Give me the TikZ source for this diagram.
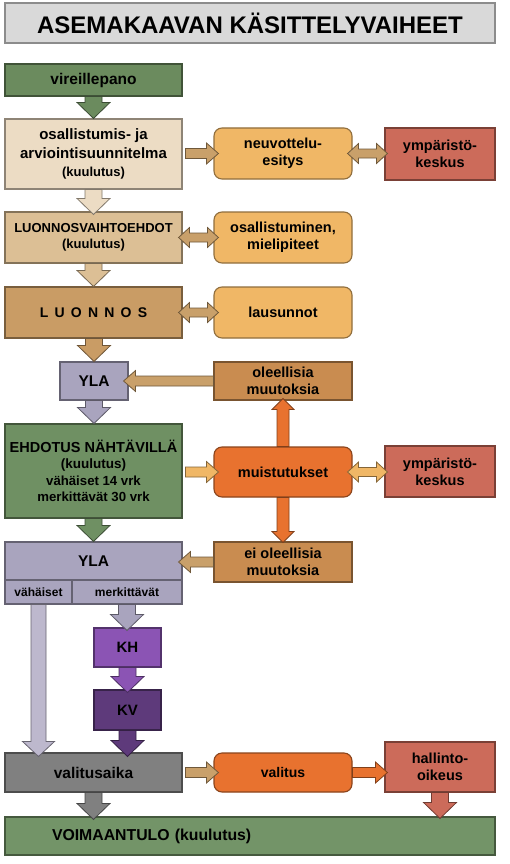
\documentclass[tikz,border=0pt]{standalone}
\usepackage{fontspec}
\setmainfont{Liberation Sans}
\usetikzlibrary{calc}
\newcommand\myfs[2]{\fontsize{#1}{#2}\selectfont}
\newcommand\lsp{\hspace{6.2pt}}
\definecolor{cTitle}{HTML}{D9D9D9}
\definecolor{cVir}{HTML}{6B8B5E}
\definecolor{cOsa}{HTML}{ECDCC4}
\definecolor{cLvt}{HTML}{DCBF95}
\definecolor{cLuo}{HTML}{C99C65}
\definecolor{cOrL}{HTML}{F0B766}
\definecolor{cRed}{HTML}{CC6B5A}
\definecolor{cYla}{HTML}{A9A4BE}
\definecolor{cOle}{HTML}{C98C50}
\definecolor{cGreen}{HTML}{6F9063}
\definecolor{cOr}{HTML}{E8722F}
\definecolor{cVah}{HTML}{BDB8CD}
\definecolor{cKH}{HTML}{8B54B4}
\definecolor{cKV}{HTML}{5E3A7B}
\definecolor{cGray}{HTML}{808080}
\definecolor{cVoi}{HTML}{739468}
\definecolor{cTan}{HTML}{C9A06A}
\newcommand\barrow[6]{%
  \coordinate (bah) at ($(#3)!#6!(#2)$);
  \draw[ar=#1] ($(#2)!#4!90:(#3)$) -- ($(bah)!#4!-90:(#2)$) -- ($(bah)!#5!-90:(#2)$) -- (#3) -- ($(bah)!#5!90:(#2)$) -- ($(bah)!#4!90:(#2)$) -- ($(#2)!#4!-90:(#3)$) -- cycle;}
\newcommand\dbarrow[6]{%
  \coordinate (dba) at ($(#2)!#6!(#3)$);
  \coordinate (dbb) at ($(#3)!#6!(#2)$);
  \draw[ar=#1] (#2) -- ($(dba)!#5!90:(#3)$) -- ($(dba)!#4!90:(#3)$) -- ($(dbb)!#4!-90:(#2)$) -- ($(dbb)!#5!-90:(#2)$) -- (#3) -- ($(dbb)!#5!90:(#2)$) -- ($(dbb)!#4!90:(#2)$) -- ($(dba)!#4!-90:(#3)$) -- ($(dba)!#5!-90:(#3)$) -- cycle;}
\tikzset{
  bx/.style={draw=#1!60!black, fill=#1, line width=1.1pt, inner sep=0pt, align=center, text=black, font=\bfseries\myfs{14.5}{17}},
  rbx/.style={bx=#1, rounded corners=8pt},
  ar/.style={draw=#1!55!black, fill=#1, line width=0.8pt, line join=miter},
}
\begin{document}
\begin{tikzpicture}[x=1pt,y=-1pt]
\useasboundingbox[fill=white] (0,0) rectangle (510,864);
% boxes
\node[bx=cTitle, draw=black!45, line width=1.5pt, minimum width=490pt, minimum height=40pt, font=\bfseries\myfs{24}{28}] (title) at (250,23) {ASEMAKAAVAN KÄSITTELYVAIHEET};
\node[bx=cVir, minimum width=177pt, minimum height=32pt, font=\bfseries\myfs{15.5}{18}] (vir) at (93.5,80) {vireillepano};
\node[bx=cOsa, minimum width=177pt, minimum height=70pt, font=\bfseries\myfs{15}{18.5}] (osa) at (93.5,154) {osallistumis- ja\\arviointisuunnitelma\\{\myfs{13}{16}(kuulutus)}};
\node[rbx=cOrL, minimum width=138pt, minimum height=51pt] (neu) at (283,153.5) {neuvottelu-\\esitys};
\node[bx=cRed, minimum width=110pt, minimum height=52pt] (ymp1) at (440,154) {ympäristö-\\keskus};
\node[bx=cLvt, minimum width=177pt, minimum height=51pt, font=\bfseries\myfs{13}{16.5}] (lvt) at (93.5,237.5) {LUONNOSVAIHTOEHDOT\\(kuulutus)};
\node[rbx=cOrL, minimum width=138pt, minimum height=51pt] (osm) at (283,237.5) {osallistuminen,\\mielipiteet};
\node[bx=cLuo, minimum width=177pt, minimum height=51pt, font=\bfseries\myfs{14}{17}] (luo) at (93.5,312.5) {L\lsp U\lsp O\lsp N\lsp N\lsp O\lsp S};
\node[rbx=cOrL, minimum width=138pt, minimum height=51pt] (lau) at (283,312.5) {lausunnot};
\node[bx=cYla, minimum width=68pt, minimum height=38pt, font=\bfseries\myfs{15.5}{18}] (yla1) at (94,381) {YLA};
\node[bx=cOle, minimum width=138pt, minimum height=38pt] (ole) at (283,381) {oleellisia\\muutoksia};
\node[bx=cGreen, minimum width=177pt, minimum height=94pt, font=\bfseries\myfs{14.5}{16.5}] (ehd) at (93.5,471) {EHDOTUS NÄHTÄVILLÄ\\{\myfs{13.5}{16.5}(kuulutus)}\\{\myfs{13.2}{16.5}vähäiset 14 vrk}\\{\myfs{13.2}{16.5}merkittävät 30 vrk}};
\node[rbx=cOr, minimum width=138pt, minimum height=50pt] (mui) at (283,472) {muistutukset};
\node[bx=cRed, minimum width=110pt, minimum height=51pt] (ymp2) at (440,471.5) {ympäristö-\\keskus};
\node[bx=cYla, minimum width=177pt, minimum height=38pt, font=\bfseries\myfs{15.5}{18}] (yla2) at (93.5,561) {YLA};
\node[bx=cOle, minimum width=138pt, minimum height=40pt] (ei) at (283,562) {ei oleellisia\\muutoksia};
\node[bx=cYla, minimum width=67pt, minimum height=24pt, font=\bfseries\myfs{12}{14}] (vah) at (38.5,592) {vähäiset};
\node[bx=cYla, minimum width=110pt, minimum height=24pt, font=\bfseries\myfs{12}{14}] (mer) at (127,592) {merkittävät};
\node[bx=cKH, minimum width=67pt, minimum height=39pt, font=\bfseries\myfs{15}{18}] (kh) at (127.5,647.5) {KH};
\node[bx=cKV, minimum width=67pt, minimum height=40pt, font=\bfseries\myfs{15}{18}] (kv) at (127.5,710) {KV};
\node[bx=cGray, minimum width=177pt, minimum height=39pt, font=\bfseries\myfs{15.5}{18}] (val) at (93.5,772.5) {valitusaika};
\node[rbx=cOr, minimum width=138pt, minimum height=39pt, font=\bfseries\myfs{14}{17}] (vlt) at (283,772.5) {valitus};
\node[bx=cRed, minimum width=110pt, minimum height=50pt] (hal) at (440,767) {hallinto-\\oikeus};
\node[bx=cVoi, minimum height=38pt, text width=396pt, inner xsep=47pt, align=left, font=\bfseries\myfs{15.8}{18}] (voi) at (250,836) {VOIMAANTULO (kuulutus)};
% connector end points
\coordinate (a2e) at ($(lvt.north)+(0,3)$);
\coordinate (a4s) at (luo.south -| yla1.north);
\coordinate (a5e) at (ehd.north -| yla1.south);
\coordinate (a7e) at ($(kh.north -| mer.south)+(0,3)$);
\coordinate (a8e) at ($(kv.north)+(0,3)$);
\coordinate (a9e) at ($(val.north -| kv.south)+(0,4)$);
\coordinate (a10e) at ($(val.north -| vah.south)+(0,4)$);
\coordinate (a11e) at ($(voi.north -| val.south)+(0,3)$);
\coordinate (a12e) at ($(voi.north -| hal.south)+(0,2)$);
\coordinate (a13s) at ($(neu.west -| osa.east)+(3,0)$);
\coordinate (a13e) at ($(neu.west)+(5,0)$);
\coordinate (a14s) at ($(neu.east)+(-5,0)$);
\coordinate (a14e) at ($(neu.east -| ymp1.west)+(3,0)$);
\coordinate (a15s) at ($(lvt.east)+(-4,0)$);
\coordinate (a15e) at ($(osm.west)+(5,0)$);
\coordinate (a16s) at ($(luo.east)+(-4,0)$);
\coordinate (a16e) at ($(lau.west)+(5,0)$);
\coordinate (a17e) at ($(yla1.east)+(-5,0)$);
\coordinate (a18s) at ($(mui.west -| ehd.east)+(3,0)$);
\coordinate (a18e) at ($(mui.west)+(5,0)$);
\coordinate (a19s) at ($(mui.east)+(-5,0)$);
\coordinate (a19e) at ($(mui.east -| ymp2.west)+(3,0)$);
\coordinate (a20e) at ($(ole.south)+(0,-2)$);
\coordinate (a21e) at ($(ei.north)+(0,1)$);
\coordinate (a22e) at ($(ei.west -| yla2.east)+(-4,0)$);
\coordinate (a23s) at ($(val.east)+(3,0)$);
\coordinate (a23e) at ($(vlt.west)+(5,0)$);
\coordinate (a24e) at ($(vlt.east -| hal.west)+(3,0)$);
% main flow arrows
\barrow{cVir}{vir.south}{osa.north}{8.5pt}{16.5pt}{16pt}
\barrow{cOsa}{osa.south}{a2e}{8.5pt}{16.5pt}{16pt}
\barrow{cLvt}{lvt.south}{luo.north}{8.5pt}{16.5pt}{16pt}
\barrow{cLuo}{a4s}{yla1.north}{8.5pt}{16.5pt}{16pt}
\barrow{cYla}{yla1.south}{a5e}{8.5pt}{16.5pt}{16pt}
\barrow{cGreen}{ehd.south}{yla2.north}{8.5pt}{16.5pt}{16pt}
\barrow{cYla}{mer.south}{a7e}{8.5pt}{16.5pt}{16pt}
\barrow{cKH}{kh.south}{a8e}{8.5pt}{16.5pt}{16pt}
\barrow{cKV}{kv.south}{a9e}{8.5pt}{16.5pt}{16pt}
\barrow{cVah}{vah.south}{a10e}{7.5pt}{16pt}{15pt}
\barrow{cGray}{val.south}{a11e}{8.5pt}{16.5pt}{16pt}
\barrow{cRed}{hal.south}{a12e}{8.5pt}{16.5pt}{16pt}
% side arrows
\barrow{cTan}{a13s}{a13e}{5pt}{10.5pt}{12pt}
\dbarrow{cTan}{a14s}{a14e}{4.5pt}{10pt}{11pt}
\dbarrow{cTan}{a15s}{a15e}{4.5pt}{10pt}{11pt}
\dbarrow{cTan}{a16s}{a16e}{4.5pt}{10pt}{11pt}
\barrow{cTan}{ole.west}{a17e}{5pt}{10.5pt}{12pt}
\barrow{cOrL}{a18s}{a18e}{5pt}{10.5pt}{12pt}
\dbarrow{cOrL}{a19s}{a19e}{4.5pt}{10pt}{11pt}
\barrow{cOr}{mui.north}{a20e}{6pt}{11pt}{11pt}
\barrow{cOr}{mui.south}{a21e}{6pt}{11pt}{11pt}
\barrow{cTan}{ei.west}{a22e}{5pt}{10.5pt}{12pt}
\barrow{cTan}{a23s}{a23e}{5pt}{10.5pt}{12pt}
\barrow{cOr}{vlt.east}{a24e}{5pt}{10.5pt}{12pt}
\end{tikzpicture}
\end{document}
